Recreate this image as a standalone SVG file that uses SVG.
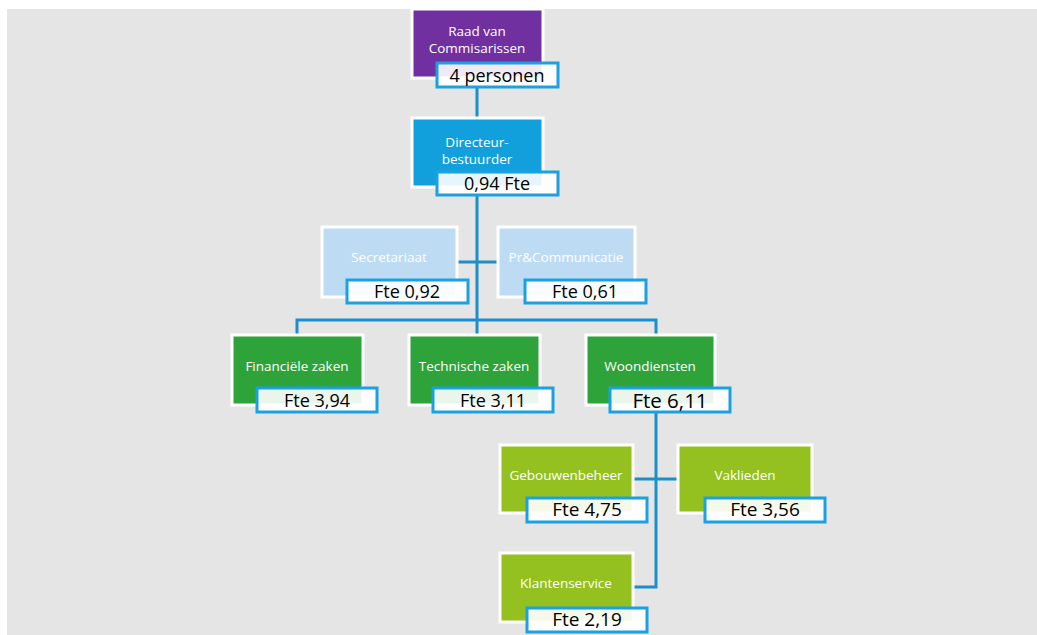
<svg xmlns="http://www.w3.org/2000/svg" width="1037" height="635" viewBox="0 0 1037 635">
<style>
.box{stroke:#ffffff;stroke-width:3}
.purple{fill:#7030A0}
.blue{fill:#11A0DC}
.light{fill:#BDDCF4}
.green{fill:#2EA33A}
.lime{fill:#94C11F}
.lbl{fill:#ffffff;fill-opacity:0.9;stroke:#1BA1E2;stroke-width:3}
.nt{font-family:"Open Sans","Noto Sans",sans-serif;font-size:13.5px;fill:#ffffff;text-anchor:middle}
.lt{font-family:"Open Sans","Noto Sans",sans-serif;font-size:18px;fill:#000000;text-anchor:middle}
.conn{fill:none;stroke:#1B8FCC;stroke-width:3}
</style>
<rect x="0" y="0" width="1037" height="635" fill="#ffffff"/>
<rect x="7" y="9" width="1030" height="626" fill="#E5E5E5"/>
<g id="connectors">
<path class="conn" d="M477 87 V118"/>
<path class="conn" d="M477 195 V320"/>
<path class="conn" d="M457 262 H498"/>
<path class="conn" d="M297 335 V320 H656 V335"/>
<path class="conn" d="M477 320 V335"/>
<path class="conn" d="M656 412 V587 H633"/>
<path class="conn" d="M633 479 H678"/>
</g>
<g id="raad">
<rect class="box purple" x="412" y="9" width="131" height="69"/>
<text class="nt" x="477" y="36">Raad van</text>
<text class="nt" x="477" y="53">Commisarissen</text>
<rect class="lbl" x="437" y="63" width="121" height="24"/>
<text class="lt" x="497" y="82">4 personen</text>
</g>
<g id="directeur">
<rect class="box blue" x="412" y="118" width="131" height="69"/>
<text class="nt" x="477" y="147">Directeur-</text>
<text class="nt" x="477" y="164">bestuurder</text>
<rect class="lbl" x="437" y="172" width="121" height="23"/>
<text class="lt" x="497" y="190">0,94 Fte</text>
</g>
<g id="secretariaat">
<rect class="box light" x="322" y="227" width="135" height="70"/>
<text class="nt" x="389" y="262">Secretariaat</text>
<rect class="lbl" x="347" y="280" width="121" height="23"/>
<text class="lt" x="407" y="298">Fte 0,92</text>
</g>
<g id="pr">
<rect class="box light" x="498" y="227" width="137" height="70"/>
<text class="nt" x="566" y="262">Pr&amp;Communicatie</text>
<rect class="lbl" x="525" y="280" width="121" height="23"/>
<text class="lt" x="585" y="298">Fte 0,61</text>
</g>
<g id="financiele">
<rect class="box green" x="232" y="335" width="131" height="70"/>
<text class="nt" x="297" y="371">Financiële zaken</text>
<rect class="lbl" x="257" y="388" width="120" height="24"/>
<text class="lt" x="317" y="407">Fte 3,94</text>
</g>
<g id="technische">
<rect class="box green" x="409" y="335" width="131" height="70"/>
<text class="nt" x="474" y="371">Technische zaken</text>
<rect class="lbl" x="433" y="388" width="120" height="24"/>
<text class="lt" x="493" y="407">Fte 3,11</text>
</g>
<g id="woondiensten">
<rect class="box green" x="586" y="335" width="129" height="70"/>
<text class="nt" x="650" y="371">Woondiensten</text>
<rect class="lbl" x="610" y="388" width="120" height="24"/>
<text class="lt" x="670" y="408" style="font-size:20.5px">Fte 6,11</text>
</g>
<g id="gebouwenbeheer">
<rect class="box lime" x="500" y="445" width="133" height="68"/>
<text class="nt" x="566" y="480">Gebouwenbeheer</text>
<rect class="lbl" x="527" y="498" width="120" height="24"/>
<text class="lt" x="587" y="516" style="font-size:19px">Fte 4,75</text>
</g>
<g id="vaklieden">
<rect class="box lime" x="678" y="445" width="134" height="68"/>
<text class="nt" x="745" y="480">Vaklieden</text>
<rect class="lbl" x="705" y="498" width="120" height="24"/>
<text class="lt" x="765" y="516" style="font-size:19px">Fte 3,56</text>
</g>
<g id="klantenservice">
<rect class="box lime" x="500" y="553" width="133" height="69"/>
<text class="nt" x="566" y="588">Klantenservice</text>
<rect class="lbl" x="527" y="608" width="120" height="24"/>
<text class="lt" x="587" y="626" style="font-size:19px">Fte 2,19</text>
</g>
</svg>
